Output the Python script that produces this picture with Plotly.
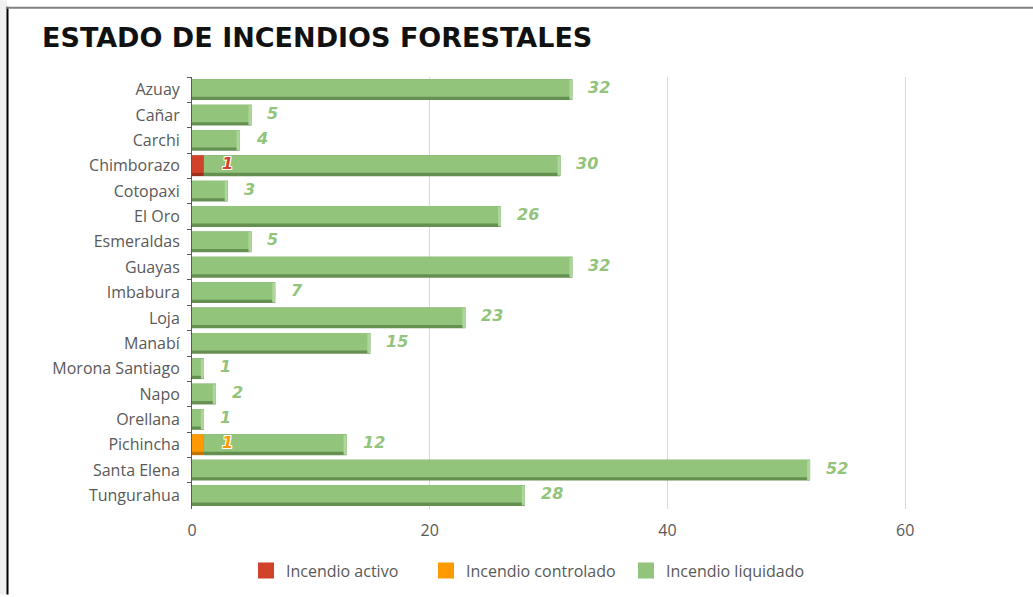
import plotly.graph_objects as go

provincias = ["Azuay", "Cañar", "Carchi", "Chimborazo", "Cotopaxi", "El Oro", "Esmeraldas",
              "Guayas", "Imbabura", "Loja", "Manabí", "Morona Santiago", "Napo", "Orellana",
              "Pichincha", "Santa Elena", "Tungurahua"]
activo = [0, 0, 0, 1, 0, 0, 0, 0, 0, 0, 0, 0, 0, 0, 0, 0, 0]
controlado = [0, 0, 0, 0, 0, 0, 0, 0, 0, 0, 0, 0, 0, 0, 1, 0, 0]
liquidado = [32, 5, 4, 30, 3, 26, 5, 32, 7, 23, 15, 1, 2, 1, 12, 52, 28]
x_ticks = [0, 20, 40, 60]

C_ACT, C_ACT_D = "#d0432a", "#9a2f1c"
C_CTL, C_CTL_D = "#ff9900", "#c27400"
C_LIQ, C_LIQ_D, C_LIQ_L = "#92c47c", "#668f52", "#aed69c"
GRAY = "#595959"

W, H = 1033, 597
ML, MR, MT, MB = 192, 9, 77, 86
PW, PH = W - ML - MR, H - MT - MB


def px(x):
    return (x - ML) / PW


def py(y):
    return (H - MB - y) / PH


base_ctl = activo
base_liq = [a + c for a, c in zip(activo, controlado)]
totals = [a + c + l for a, c, l in zip(activo, controlado, liquidado)]

fig = go.Figure()
OFF, W_SH, W_MAIN = -0.41, 0.82, 0.69
series = [
    ("Incendio activo", activo, [0] * len(activo), C_ACT, C_ACT_D, "legend"),
    ("Incendio controlado", controlado, base_ctl, C_CTL, C_CTL_D, "legend2"),
    ("Incendio liquidado", liquidado, base_liq, C_LIQ, C_LIQ_D, "legend3"),
]
for name, vals, base, col, dcol, leg in series:
    fig.add_trace(go.Bar(y=provincias, x=vals, base=base, orientation="h",
                         offset=OFF, width=W_SH, marker=dict(color=dcol, line_width=0),
                         showlegend=False, hoverinfo="skip"))
    fig.add_trace(go.Bar(y=provincias, x=vals, base=base, orientation="h", name=name,
                         offset=OFF, width=W_MAIN, marker=dict(color=col, line_width=0),
                         showlegend=False))
    # legend proxy (no data)
    fig.add_trace(go.Scatter(x=[None], y=[None], mode="markers", name=name,
                             marker=dict(symbol="square", size=16, color=col),
                             legend=leg, showlegend=True))

# light bevel at the right end of each bar (3D look)
CAP = 0.25
fig.add_trace(go.Bar(y=provincias, x=[CAP] * len(totals), base=[t - CAP for t in totals],
                     orientation="h", offset=OFF + 0.03, width=W_SH - 0.05,
                     marker=dict(color=C_LIQ_L, line_width=0), showlegend=False, hoverinfo="skip"))

SHADOW = "1px 1px 0 white, -1px -1px 0 white, 1px -1px 0 white, -1px 1px 0 white"
annotations = []
for p, a, c, l, tot in zip(provincias, activo, controlado, liquidado, totals):
    annotations.append(dict(x=tot, y=p, xref="x", yref="y", text=f"<b><i>{l}</i></b>",
                            showarrow=False, xanchor="left", xshift=14, yshift=2,
                            font=dict(family="DejaVu Sans", size=16, color=C_LIQ)))
    if a:
        annotations.append(dict(x=a, y=p, xref="x", yref="y", text=f"<b><i>{a}</i></b>",
                                showarrow=False, xanchor="left", xshift=16, yshift=2,
                                font=dict(family="DejaVu Sans", size=16, color=C_ACT, shadow=SHADOW)))
    if c:
        annotations.append(dict(x=a + c, y=p, xref="x", yref="y", text=f"<b><i>{c}</i></b>",
                                showarrow=False, xanchor="left", xshift=16, yshift=2,
                                font=dict(family="DejaVu Sans", size=16, color=C_CTL, shadow=SHADOW)))

leg_common = dict(orientation="h", xanchor="left", yanchor="middle", y=py(573),
                  font=dict(size=16, color=GRAY), itemwidth=30, bgcolor="rgba(0,0,0,0)")

fig.update_layout(
    width=W, height=H,
    margin=dict(l=ML, r=MR, t=MT, b=MB),
    paper_bgcolor="white", plot_bgcolor="white",
    barmode="overlay",
    title=dict(text="<b>ESTADO DE INCENDIOS FORESTALES</b>", x=42 / W, xanchor="left",
               y=1 - 38 / H, yanchor="middle",
               font=dict(family="DejaVu Sans", size=27, color="#111111")),
    font=dict(family="Open Sans", size=16, color=GRAY),
    legend=dict(x=px(246), **leg_common),
    legend2=dict(x=px(426), **leg_common),
    legend3=dict(x=px(626), **leg_common),
    annotations=annotations,
    shapes=[
        dict(type="rect", xref="paper", yref="paper", x0=px(0), x1=px(7),
             y0=py(H), y1=py(0), fillcolor="#f0f0f0", line_width=0, layer="below"),
        dict(type="line", xref="paper", yref="paper", x0=px(7.5), x1=px(7.5),
             y0=py(H), y1=py(6.5), line=dict(color="black", width=2)),
        dict(type="line", xref="paper", yref="paper", x0=px(7), x1=px(W),
             y0=py(7.5), y1=py(7.5), line=dict(color="#808080", width=2)),
    ],
)
fig.update_xaxes(range=[0, 70], tickvals=x_ticks, showgrid=True, gridcolor="#d9d9d9",
                 gridwidth=1, zeroline=False, showline=False, ticks="",
                 ticklabelstandoff=10, tickfont=dict(size=16, color=GRAY))
fig.update_yaxes(autorange="reversed", showline=True, linecolor="#595959", linewidth=1,
                 ticks="outside", tickson="boundaries", ticklen=4, tickcolor="#595959",
                 ticklabelstandoff=8, tickfont=dict(size=16, color=GRAY), showgrid=False)

fig.write_html("out.html", config={"displayModeBar": False},
               post_script="document.body.style.margin='0';")
